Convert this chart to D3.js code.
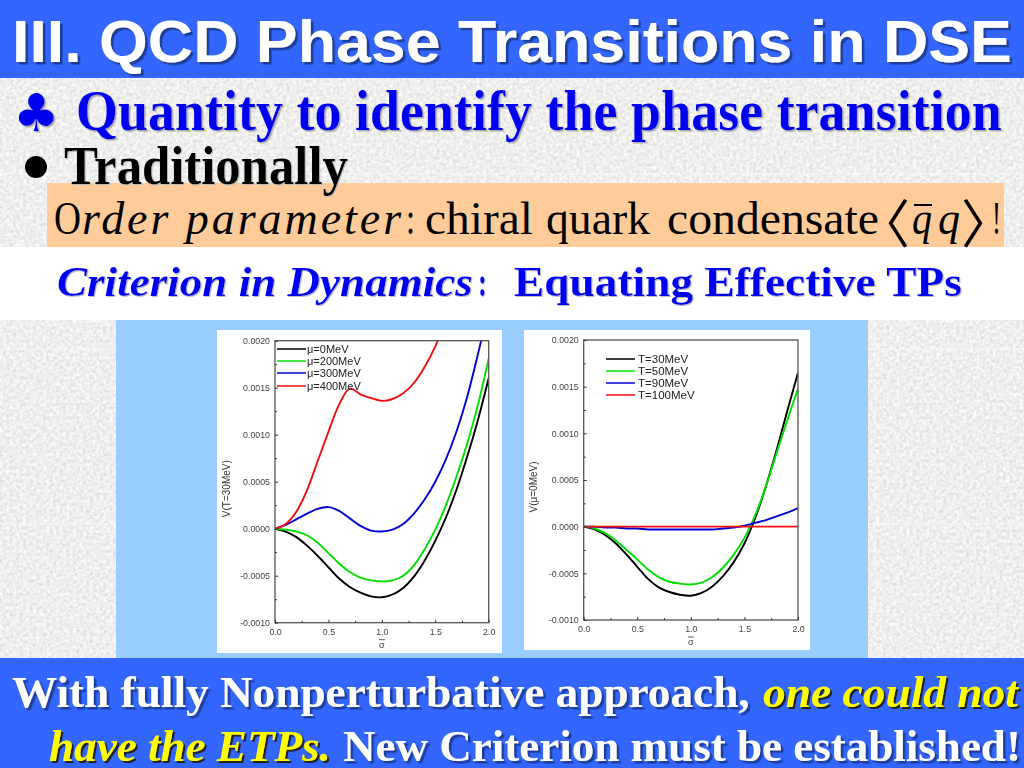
<!DOCTYPE html>
<html><head><meta charset="utf-8">
<script src="https://cdn.jsdelivr.net/npm/d3@7"></script>
<style>html,body{margin:0;padding:0;background:#ddd;overflow:hidden}svg{display:block}</style>
</head><body><svg id="c" width="1024" height="768"></svg>
<script>
const xs=[0,0.1,0.2,0.3,0.4,0.5,0.6,0.7,0.8,0.9,1.0,1.1,1.2,1.3,1.4,1.5,1.6,1.7,1.8,1.9,2.0];
// Left panel: V(T=30MeV)
const mu0=[0,-0.00003,-0.00009,-0.00018,-0.00029,-0.00041,-0.00053,-0.00062,-0.00068,-0.00072,-0.00073,-0.0007,-0.00063,-0.00051,-0.00034,-0.00013,0.00012,0.00042,0.00077,0.00116,0.0016];
const mu200=[0,-0.00001,-0.00003,-0.00007,-0.00015,-0.00026,-0.00037,-0.00046,-0.00052,-0.00055,-0.00056,-0.00055,-0.0005,-0.00039,-0.00022,-0.00001,0.00025,0.00056,0.00091,0.00132,0.00181];
const mu300=[0,0.00004,0.0001,0.00016,0.00021,0.00023,0.00019,0.00011,0.00003,-0.00002,-0.00003,-0.00001,0.00005,0.00016,0.00031,0.0005,0.00074,0.00104,0.00141,0.00186,0.00235];
const mu400=[0,0.00005,0.00018,0.00041,0.00072,0.00103,0.00132,0.00149,0.00143,0.00139,0.00136,0.00138,0.00144,0.00155,0.00172,0.00194,0.00222,0.00252,0.00284,0.0032,0.0036];
// Right panel: V(mu=0MeV)
const t30=[0,-0.00003,-0.00009,-0.00018,-0.0003,-0.00043,-0.00056,-0.00065,-0.0007,-0.00073,-0.00074,-0.00071,-0.00064,-0.00053,-0.00038,-0.00018,0.00009,0.00043,0.00082,0.00124,0.00165];
const t50=[0,-0.00002,-0.00007,-0.00015,-0.00025,-0.00035,-0.00046,-0.00054,-0.00059,-0.00061,-0.00062,-0.0006,-0.00054,-0.00044,-0.0003,-0.00012,0.00012,0.00043,0.00079,0.00114,0.00148];
const t90=[0,0,-0.00001,-0.00001,-0.00002,-0.00002,-0.00003,-0.00003,-0.00003,-0.00003,-0.00003,-0.00003,-0.00003,-0.00002,-0.00001,0.00001,0.00004,0.00007,0.00011,0.00015,0.0002];
const t100=[0,0,0,0,0,0,0,0,0,0,0,0,0,0,0,0,0,0,0,0,0];
const leftNames=["μ=0MeV","μ=200MeV","μ=300MeV","μ=400MeV"];
const rightNames=["T=30MeV","T=50MeV","T=90MeV","T=100MeV"];
const colors=["#000000","#00e000","#0000d0","#f01010"];
const xTicks=[0,0.5,1,1.5,2];
const yTicks=[-0.001,-0.0005,0,0.0005,0.001,0.0015,0.002];

const svg=d3.select("#c");
const defs=svg.append("defs");
const tex=defs.append("filter").attr("id","tex").attr("x",0).attr("y",0).attr("width","100%").attr("height","100%");
tex.append("feTurbulence").attr("type","fractalNoise").attr("baseFrequency",0.3).attr("numOctaves",3).attr("seed",4);
tex.append("feColorMatrix").attr("values","0.42 0 0 0 0.65  0.42 0 0 0 0.65  0.42 0 0 0 0.64  0 0 0 0 1");
const bl=defs.append("filter").attr("id","soft").attr("x","-5%").attr("y","-5%").attr("width","110%").attr("height","110%");
bl.append("feGaussianBlur").attr("stdDeviation",0.5);
function shadowF(id,dx,col){
  defs.append("filter").attr("id",id).attr("x","-3%").attr("y","-10%").attr("width","106%").attr("height","125%")
    .append("feDropShadow").attr("dx",dx).attr("dy",dx).attr("stdDeviation",0.4).attr("flood-color",col).attr("flood-opacity",1);
}
shadowF("sBlue",2.5,"#1f3c99");shadowF("sDark",2,"#222");shadowF("sGrey",1.5,"#aaa");shadowF("sLight",1,"#bbb");

const R=(x,y,w,h,f)=>svg.append("rect").attr("x",x).attr("y",y).attr("width",w).attr("height",h).attr("fill",f);
R(0,0,1024,768,"#d9d9d6").attr("filter","url(#tex)");
const seams=d3.range(175,1024,175);
seams.forEach(v=>{
  svg.append("line").attr("x1",v).attr("x2",v).attr("y1",78).attr("y2",768).attr("stroke","#fff").attr("stroke-opacity",0.5);
  svg.append("line").attr("x1",0).attr("x2",1024).attr("y1",v-1).attr("y2",v-1).attr("stroke","#fff").attr("stroke-opacity",0.7);
});
R(0,0,1024,78,"#3366ff");
R(47,183,957,64,"#ffcc99");
R(0,247,1024,73,"#ffffff");
R(116,320,752,338,"#99ccff");
R(0,658,1024,110,"#3366ff");

const serif="'Liberation Serif',serif", sans="'Liberation Sans',sans-serif", cjk="'Noto Sans CJK SC',sans-serif";
function T(str,x,y,size,fill,o={}){
  const t=svg.append("text").attr("font-family",o.font||serif)
    .attr("font-size",size).attr("font-weight",o.weight||"bold").attr("font-style",o.italic?"italic":"normal")
    .attr("fill",fill).text(str);
  if(o.w){
    const nat=t.node().getComputedTextLength();
    if(o.spacing){
      t.attr("letter-spacing",(o.w-nat)/str.length).attr("x",x).attr("y",y);
    } else {
      t.attr("transform",`translate(${x},${y}) scale(${o.w/nat},1)`);
    }
  } else t.attr("x",x).attr("y",y);
  if(o.f) t.attr("filter",`url(#${o.f})`);
  return t;
}
T("III. QCD Phase Transitions in DSE",12,62,60,"#fff",{font:sans,w:1000,f:"sBlue"});
T("♣",13,131,52,"#0000ee",{font:"'DejaVu Sans',sans-serif",weight:"normal",f:"sGrey"});
T("Quantity to identify the phase transition",76,130,57,"#0000f0",{w:926,f:"sGrey"});
svg.append("circle").attr("cx",36).attr("cy",167).attr("r",11).attr("fill","#000");
T("Traditionally",64,184,54,"#000",{w:284,f:"sLight"});
const W={weight:"normal"};
T("O",54,234,46,"#000",{...W,w:27});
T("rder parameter",82,234,46,"#000",{...W,italic:true,w:322,spacing:true});
T(":",406,234,46,"#000",{...W,w:9});
T("chiral",425,234,47,"#000",{...W,w:108});
T("quark",546,234,47,"#000",{...W,w:104});
T("condensate",667,234,47,"#000",{...W,w:212});
T("〈",858,243,52,"#000",{...W,font:cjk});
T("q",912,234,46,"#000",{...W,italic:true,w:20});
svg.append("line").attr("x1",914).attr("x2",932).attr("y1",205).attr("y2",205).attr("stroke","#000").attr("stroke-width",2);
T("q",938,234,46,"#000",{...W,italic:true,w:22});
T("〉",961,243,52,"#000",{...W,font:cjk});
T("!",992,234,46,"#000",{...W,w:9});
T("Criterion in Dynamics",57,296,42,"#0000f0",{italic:true,w:416,f:"sLight"});
T(":",478,296,42,"#0000f0",{w:9,f:"sLight"});
T("Equating Effective TPs",514,296,42,"#0000f0",{w:448,f:"sLight"});
T("With fully Nonperturbative approach,",12,707,44,"#fff",{w:738,f:"sBlue"});
T("one could not",763,707,44,"#ffff00",{italic:true,w:255,f:"sDark"});
T("have the ETPs.",49,761,44,"#ffff00",{italic:true,w:282,f:"sDark"});
T("New Criterion must be established!",343,761,44,"#fff",{w:678,f:"sBlue"});

function panel(o){
  R(o.px,o.py,o.pw,o.ph,"#fff");
  const g=svg.append("g").attr("filter","url(#soft)");
  const x=d3.scaleLinear().domain([0,2]).range([o.x0,o.x1]);
  const y=d3.scaleLinear().domain([-0.001,0.002]).range([o.y0,o.y1]);
  const id="clip"+o.x0;
  defs.append("clipPath").attr("id",id).append("rect").attr("x",o.x0).attr("y",o.y1).attr("width",o.x1-o.x0).attr("height",o.y0-o.y1);
  const line=d3.line().x((d,i)=>x(xs[i])).y(d=>y(d)).curve(d3.curveCatmullRom.alpha(0.5));
  o.series.forEach((s,i)=>g.append("path").attr("d",line(s)).attr("fill","none").attr("stroke",colors[i]).attr("stroke-width",1.9).attr("clip-path",`url(#${id})`));
  g.append("rect").attr("x",o.x0).attr("y",o.y1).attr("width",o.x1-o.x0).attr("height",o.y0-o.y1).attr("fill","none").attr("stroke","#555").attr("stroke-width",1.3);
  const style=a=>{a.attr("font-family",sans).attr("font-size",8.8).attr("color","#333");a.select(".domain").remove();a.selectAll("text").attr("fill","#444");};
  const ax=g.append("g").attr("transform",`translate(0,${o.y0})`).call(d3.axisBottom(x).tickValues(xTicks).tickSize(-3).tickPadding(6).tickFormat(d3.format(".1f")));style(ax);
  const ay=g.append("g").attr("transform",`translate(${o.x0},0)`).call(d3.axisLeft(y).tickValues(yTicks).tickSize(-3).tickPadding(5).tickFormat(d3.format(".4f")));style(ay);
  ay.selectAll("text").text(d=>d3.format(".4f")(d).replace("−","-"));
  const mx=g.append("g").attr("transform",`translate(0,${o.y0})`).call(d3.axisBottom(x).tickValues(xTicks.slice(0,-1).map(d=>d+0.25)).tickSize(-2).tickFormat(""));style(mx);
  const my=g.append("g").attr("transform",`translate(${o.x0},0)`).call(d3.axisLeft(y).tickValues(yTicks.slice(0,-1).map(d=>d+0.00025)).tickSize(-2).tickFormat(""));style(my);
  g.append("text").attr("transform",`translate(${o.ylx},${(o.y0+o.y1)/2+7}) rotate(-90)`).attr("text-anchor","middle").attr("font-family",sans).attr("font-size",10).attr("fill","#333").text(o.ylabel);
  const sx=(o.x0+o.x1)/2, sy=o.y0+25;
  g.append("text").attr("x",sx).attr("y",sy).attr("text-anchor","middle").attr("font-family",sans).attr("font-size",9).attr("fill","#333").text("σ");
  g.append("line").attr("x1",sx-3).attr("x2",sx+3).attr("y1",sy-8).attr("y2",sy-8).attr("stroke","#333").attr("stroke-width",0.8);
  o.names.forEach((n,i)=>{
    const ly=o.ly[i];
    g.append("line").attr("x1",o.lx0).attr("x2",o.lx1).attr("y1",ly).attr("y2",ly).attr("stroke",colors[i]).attr("stroke-width",1.5);
    g.append("text").attr("x",o.lx1+o.lgap).attr("y",ly+3.8).attr("font-family",sans).attr("font-size",o.lsize).attr("fill","#222").text(n);
  });
}
panel({px:217,py:330,pw:285,ph:323,x0:275,x1:488.7,y0:622.7,y1:340.7,series:[mu0,mu200,mu300,mu400],names:leftNames,ylabel:"V(T=30MeV)",ylx:230,lx0:277,lx1:306,lgap:1,lsize:11,ly:[349,361,373,386]});
panel({px:524,py:330,pw:286,ph:320,x0:583.7,x1:798,y0:620,y1:340,series:[t30,t50,t90,t100],names:rightNames,ylabel:"V(μ=0MeV)",ylx:537,lx0:606,lx1:635,lgap:3,lsize:11.5,ly:[359,371,383,395]});
</script></body></html>
